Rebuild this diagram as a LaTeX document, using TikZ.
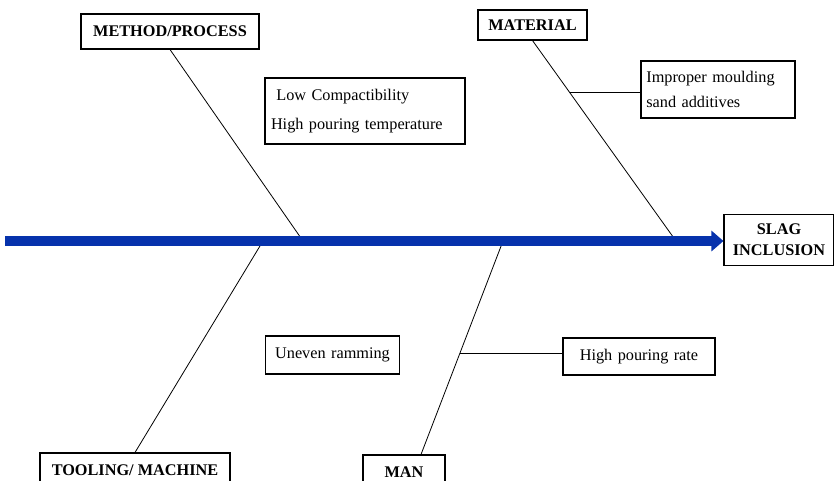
\documentclass[tikz,border=0pt]{standalone}
\usepackage{fontspec}
\setmainfont{Liberation Serif}
\usetikzlibrary{arrows.meta,calc}

\definecolor{spineblue}{RGB}{6,50,172}

\tikzset{
  catbox/.style={draw, line width=0.8pt, inner sep=1pt, font=\fontsize{12.2}{14}\selectfont\bfseries, align=center},
  causebox/.style={draw, line width=0.8pt, inner sep=1pt, font=\fontsize{12.2}{21.5}\selectfont, align=left},
  bone/.style={line width=0.6pt},
}

\begin{document}
\begin{tikzpicture}[x=0.75pt,y=0.75pt,yscale=-1,xscale=1]
  \useasboundingbox (0,0) rectangle (834,480);

  % Text Node
  \node [catbox, minimum width=133.5pt, minimum height=26.25pt] (method) at (170,31.5) {METHOD/PROCESS};
  % Text Node
  \node [catbox, minimum width=81.75pt, minimum height=22.5pt] (material) at (532.5,25) {MATERIAL};
  % Text Node
  \node [catbox, minimum width=82.5pt, minimum height=38.25pt, font=\fontsize{12.2}{15.5}\selectfont\bfseries] (slag) at (779,240) {SLAG\\INCLUSION};
  % Text Node
  \node [catbox, minimum width=142.5pt, minimum height=26.25pt] (tooling) at (135,470.5) {TOOLING/ MACHINE};
  % Text Node
  \node [catbox, minimum width=61.5pt, minimum height=26.25pt] (man) at (404,472.5) {MAN};

  % Text Node
  \node [causebox, text width=141pt, inner xsep=4.5pt, minimum height=49.5pt] (lowcomp) at (365,111) {\hspace{4pt}Low Compactibility\\High pouring temperature};
  % Text Node
  \node [causebox, text width=107.5pt, inner xsep=4pt, minimum height=42.75pt, font=\fontsize{12.2}{18.5}\selectfont] (improper) at (718,89.5) {Improper moulding\\sand additives};
  % Text Node
  \node [causebox, text width=99pt, minimum height=28.5pt, align=center] (uneven) at (332.5,355) {Uneven ramming};
  % Text Node
  \node [causebox, text width=112pt, minimum height=27.75pt, align=center] (highrate) at (639,356.5) {High pouring rate};

  % spine points
  \coordinate (tail) at (5,241);
  \coordinate (sMethod) at (303,241);
  \coordinate (sMaterial) at (676,241);
  \coordinate (sTooling) at (263,241);
  \coordinate (sMan) at (503,241);

  %Straight Lines
  \draw [bone] (method.south) -- (sMethod);
  \draw [bone] (material.south) -- (sMaterial);
  \draw [bone] (tooling.north) -- (sTooling);
  \draw [bone] ([xshift=12.75pt]man.north) -- (sMan);

  %Straight Lines (sub-causes)
  \coordinate (kMaterial) at ($(material.south)!0.26!(sMaterial)$);
  \draw [bone] (kMaterial) -- (kMaterial -| improper.west);
  \coordinate (kMan) at ($([xshift=12.75pt]man.north)!0.474!(sMan)$);
  \draw [bone] (kMan) -- (kMan -| highrate.west);

  %Spine arrow
  \draw [spineblue, line width=7.5pt, line cap=butt, -{Triangle[length=9pt, width=15pt]}] (tail) -- (tail -| slag.west);

\end{tikzpicture}
\end{document}
